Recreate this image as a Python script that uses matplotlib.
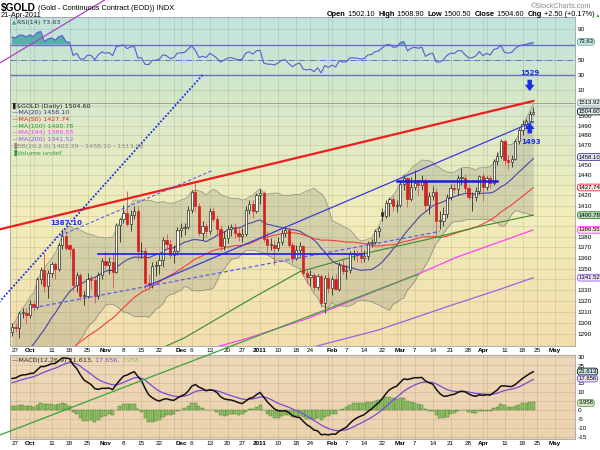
import matplotlib.pyplot as plt
from matplotlib.ticker import NullLocator
from matplotlib.transforms import blended_transform_factory
import numpy as np
import pandas as pd

# Calendrier des séances (jours fériés exclus)
holidays = ["2010-07-05", "2010-09-06", "2010-11-25", "2010-12-24",
            "2011-01-17", "2011-02-21", "2011-04-22"]

# Clôtures avant la fenêtre affichée (servent aux moyennes / indicateurs)
pre_closes = [1207, 1210, 1195, 1194, 1197, 1210, 1199, 1214, 1209, 1208,
              1189, 1182, 1191, 1193, 1193, 1189, 1183, 1161, 1159, 1169, 1181,
              1183, 1185, 1196, 1198, 1205, 1200, 1197, 1199, 1214, 1216,
              1225, 1227, 1233, 1229, 1227, 1226, 1237, 1240, 1237, 1237,
              1238, 1248, 1250, 1250, 1247, 1255, 1256, 1249, 1246,
              1245, 1268, 1269, 1275, 1276, 1279, 1275, 1291, 1292]

# OHLC du 24 sept 2010 au 21 avr 2011
opens = [1292, 1297, 1296, 1309, 1309, 1307, 1317, 1315, 1340, 1349, 1334, 1346, 1354, 1350, 1372,
         1381, 1372, 1368, 1335, 1344, 1325, 1325, 1340, 1339, 1325, 1344, 1357, 1353, 1356, 1347,
         1391, 1397, 1403, 1392, 1401, 1405, 1366, 1366, 1337, 1335, 1352, 1353, 1358, 1377, 1373,
         1363, 1366, 1386, 1388, 1389, 1406, 1423, 1410, 1384, 1390, 1385, 1405, 1397, 1387, 1371,
         1379, 1387, 1389, 1384, 1381, 1383, 1406, 1412, 1405, 1420, 1422, 1378, 1372, 1372, 1369,
         1375, 1384, 1386, 1372, 1360, 1367, 1371, 1346, 1342, 1344, 1333, 1343, 1318, 1341, 1332,
         1340, 1331, 1353, 1348, 1349, 1364, 1364, 1363, 1360, 1362, 1374, 1375, 1385, 1404, 1400,
         1413, 1416, 1410, 1411, 1431, 1437, 1416, 1428, 1432, 1430, 1434, 1411, 1419, 1423, 1395,
         1395, 1402, 1418, 1427, 1426, 1437, 1437, 1427, 1418, 1418, 1424, 1439, 1428, 1437, 1432,
         1454, 1459, 1474, 1455, 1453, 1456, 1474, 1486, 1492, 1495, 1502.1]
highs = [1300, 1300, 1311, 1314, 1314, 1321, 1320, 1342, 1351, 1365, 1349, 1356, 1356, 1374, 1387,
         1385, 1373, 1370, 1347, 1346, 1329, 1346, 1344, 1342, 1347, 1360, 1366, 1361, 1364, 1393,
         1398, 1411, 1424, 1406, 1410, 1410, 1375, 1370, 1345, 1356, 1357, 1365, 1380, 1383, 1378,
         1372, 1389, 1393, 1393, 1410, 1425, 1432, 1413, 1395, 1393, 1408, 1409, 1401, 1391, 1385,
         1391, 1392, 1393, 1389, 1388, 1410, 1415, 1415, 1422, 1426, 1424, 1385, 1379, 1377, 1380,
         1387, 1390, 1389, 1375, 1372, 1375, 1372, 1349, 1349, 1346, 1345, 1345, 1344, 1347, 1343,
         1345, 1356, 1360, 1353, 1366, 1367, 1367, 1370, 1367, 1376, 1378, 1387, 1390, 1408, 1415,
         1418, 1419, 1415, 1434, 1440, 1438, 1438, 1445, 1436, 1440, 1437, 1423, 1429, 1427, 1405,
         1409, 1421, 1431, 1432, 1440, 1447, 1441, 1430, 1423, 1428, 1440, 1442, 1439, 1440, 1456,
         1463, 1476, 1476, 1460, 1460, 1476, 1488, 1496, 1497, 1505, 1508.9]
lows = [1289, 1292, 1287, 1305, 1299, 1305, 1311, 1313, 1336, 1328, 1323, 1342, 1340, 1348, 1368,
        1367, 1361, 1329, 1328, 1321, 1316, 1323, 1331, 1318, 1322, 1340, 1350, 1345, 1332, 1346,
        1375, 1393, 1390, 1385, 1397, 1358, 1360, 1330, 1331, 1332, 1343, 1345, 1351, 1368, 1360,
        1355, 1363, 1380, 1382, 1387, 1403, 1405, 1381, 1377, 1380, 1383, 1394, 1381, 1366, 1367,
        1374, 1381, 1379, 1376, 1375, 1381, 1402, 1398, 1403, 1412, 1375, 1364, 1367, 1353, 1366,
        1372, 1380, 1370, 1355, 1358, 1362, 1343, 1336, 1334, 1329, 1330, 1315, 1309, 1327, 1326,
        1330, 1329, 1345, 1340, 1346, 1358, 1356, 1355, 1356, 1358, 1370, 1373, 1380, 1395, 1398,
        1400, 1405, 1404, 1409, 1425, 1409, 1414, 1425, 1420, 1425, 1405, 1402, 1415, 1380, 1387,
        1390, 1398, 1415, 1422, 1420, 1430, 1423, 1415, 1405, 1414, 1421, 1414, 1425, 1427, 1430,
        1450, 1457, 1450, 1446, 1448, 1455, 1471, 1480, 1488, 1494, 1500.5]
closes = [1297, 1296, 1309, 1309, 1307, 1317, 1315, 1340, 1349, 1334, 1346, 1354, 1350, 1372, 1381,
          1369, 1368, 1335, 1344, 1325, 1325, 1340, 1339, 1325, 1344, 1357, 1353, 1356, 1347, 1391,
          1397, 1403, 1392, 1401, 1405, 1366, 1366, 1337, 1335, 1352, 1353, 1358, 1377, 1373, 1363,
          1366, 1386, 1388, 1389, 1406, 1423, 1410, 1384, 1390, 1385, 1405, 1397, 1387, 1371, 1379,
          1387, 1389, 1384, 1381, 1383, 1406, 1412, 1405, 1420, 1422, 1378, 1372, 1372, 1369, 1375,
          1384, 1386, 1372, 1360, 1367, 1371, 1346, 1342, 1344, 1333, 1343, 1318, 1341, 1332, 1340,
          1331, 1353, 1348, 1349, 1364, 1364, 1363, 1360, 1362, 1374, 1375, 1385, 1388, 1400, 1413,
          1416, 1410, 1411, 1431, 1437, 1416, 1428, 1432, 1430, 1434, 1411, 1419, 1423, 1395, 1395,
          1402, 1418, 1427, 1426, 1437, 1437, 1427, 1418, 1418, 1424, 1439, 1428, 1437, 1432, 1454,
          1459, 1474, 1455, 1453, 1456, 1474, 1486, 1492, 1495, 1502, 1504.6]

# Moyennes longues
ma100_dates = ["2010-11-22", "2010-12-02", "2010-12-30", "2011-01-19", "2011-02-14",
               "2011-03-10", "2011-03-30", "2011-04-21"]
ma100_vals = [1277, 1287, 1323, 1347, 1364, 1377, 1389, 1400.78]
ma144_dates = ["2010-12-15", "2010-12-29", "2011-01-21", "2011-02-14", "2011-03-08",
               "2011-03-23", "2011-04-21"]
ma144_vals = [1279, 1287, 1304, 1325, 1345, 1361, 1386.55]
ma200_dates = ["2011-01-25", "2011-02-18", "2011-03-21", "2011-04-07", "2011-04-21"]
ma200_vals = [1279, 1294, 1316, 1330, 1341.52]

# Axe des dates
tick_dates = ["2010-09-27", "2010-10-01", "2010-10-11", "2010-10-18", "2010-10-25", "2010-11-01",
              "2010-11-08", "2010-11-15", "2010-11-22", "2010-12-01", "2010-12-06", "2010-12-13",
              "2010-12-20", "2010-12-27", "2011-01-03", "2011-01-10", "2011-01-18", "2011-01-24",
              "2011-02-01", "2011-02-07", "2011-02-14", "2011-02-22", "2011-03-01", "2011-03-07",
              "2011-03-14", "2011-03-21", "2011-03-28", "2011-04-01", "2011-04-11", "2011-04-18",
              "2011-04-25", "2011-05-02"]
tick_labels = ["27", "Oct", "11", "18", "25", "Nov", "8", "15", "22", "Dec", "6", "13", "20", "27",
               "2011", "10", "18", "24", "Feb", "7", "14", "22", "Mar", "7", "14", "21", "28",
               "Apr", "11", "18", "25", "May"]
extra_grid = ["2010-10-04", "2010-11-29", "2011-01-31", "2011-02-28", "2011-04-04"]

# Lignes de tendance tracées à la main (date, prix)
trend_red = (["2010-09-20", "2011-04-21"], [1386.6, 1515.6])
trend_dotted = (["2010-09-20", "2010-12-09"], [1317.5, 1543])
trend_magenta = (["2010-09-20", "2010-11-03"], [1554.5, 1630.5])
trend_blue = (["2010-11-16", "2011-04-21"], [1333, 1494])
trend_dash_lo = (["2010-10-04", "2011-03-16"], [1314, 1385])
trend_dash_hi = (["2010-10-12", "2010-12-14"], [1379, 1445])
hline_lo = (["2010-10-28", "2011-02-14"], [1364, 1364])
hline_hi = (["2011-02-28", "2011-04-07"], [1434.6, 1434.6])
trend_green = (["2010-09-20", "2011-03-08"], [1202.7, 1344.8])

# ------------------------------------------------------------------
days = pd.bdate_range("2010-07-01", "2011-05-31")
days = days[~days.isin(pd.to_datetime(holidays))]
pos0 = days.get_loc(pd.Timestamp("2010-10-01"))


def dpos(d):
    return days.get_loc(pd.Timestamp(d)) - pos0


start = days.get_loc(pd.Timestamp("2010-09-24"))
nv = len(closes)
x = np.arange(start, start + nv) - pos0

c_all = pd.Series(pre_closes + closes, dtype=float)
ma20 = c_all.rolling(20).mean()
ma50 = c_all.rolling(50).mean()
sd20 = c_all.rolling(20).std(ddof=0)
bb_up = ma20 + 2 * sd20
bb_dn = ma20 - 2 * sd20
macd = c_all.ewm(span=12, adjust=False).mean() - c_all.ewm(span=26, adjust=False).mean()
sig = macd.ewm(span=9, adjust=False).mean()
hist = macd - sig
dlt = c_all.diff()
ag = dlt.clip(lower=0).ewm(alpha=1 / 14, adjust=False).mean()
al = (-dlt.clip(upper=0)).ewm(alpha=1 / 14, adjust=False).mean()
rsi = 100 - 100 / (1 + ag / al)


def vis(s):
    return s.to_numpy()[-nv:]


W, H = 600, 450
fig = plt.figure(figsize=(6, 4.5), dpi=100)


def rect(top, bottom):
    return [10 / W, 1 - bottom / H, 565 / W, (bottom - top) / H]


def background(r, stops):
    bg = fig.add_axes(r, zorder=0)
    ys = np.linspace(0, 1, 200)
    pos = [s[0] for s in stops]
    cols = np.array([s[1] for s in stops]) / 255
    img = np.stack([np.interp(ys, pos, cols[:, k]) for k in range(3)], axis=1)[:, None, :]
    bg.imshow(img, aspect="auto", extent=[0, 1, 0, 1])
    bg.axis("off")


r_rsi, r_px, r_macd = rect(17, 103), rect(103, 346), rect(355, 439)
background(r_rsi, [(0, (192, 228, 222)), (1, (214, 232, 198))])
background(r_px, [(0, (216, 232, 204)), (0.45, (241, 237, 186)), (1, (243, 222, 172))])
background(r_macd, [(0, (238, 216, 184)), (1, (237, 210, 174))])

ax_r = fig.add_axes(r_rsi, zorder=1)
ax_p = fig.add_axes(r_px, zorder=3)
ax_m = fig.add_axes(r_macd, zorder=2)

tick_x = [dpos(d) for d in tick_dates]
grid_x = sorted(tick_x + [dpos(d) for d in extra_grid])
xlim = (-5.56, 151.6)
tfont = dict(family="Liberation Sans", size=4.6)
gcol = (0.42, 0.46, 0.36)
galpha = 0.2

for ax in (ax_r, ax_p, ax_m):
    ax.patch.set_visible(False)
    ax.set_xlim(*xlim)
    ax.set_xticks(tick_x)
    for gx in grid_x:
        ax.axvline(gx, color=gcol, alpha=galpha, lw=0.6, zorder=0.5)
    ax.grid(True, which="major", axis="y", color=gcol, alpha=galpha, lw=0.6)
    ax.yaxis.tick_right()
    ax.tick_params(which="both", length=0, labelsize=4.6, pad=2)
    for s in ax.spines.values():
        s.set_color("#a0a0a0")
        s.set_linewidth(0.6)

for ax in (ax_p, ax_m):
    ax.set_xticklabels(tick_labels, **tfont)
    ax.tick_params(axis="x", pad=1.5)
    for lab in ax.get_xticklabels():
        if not lab.get_text().isdigit() or lab.get_text() == "2011":
            lab.set_fontweight("bold")
ax_r.set_xticklabels([])


def ylabels(ticks, hidden):
    return ["" if t in hidden else str(t) for t in ticks]


# ---------------- RSI ----------------
rv = vis(rsi)
ax_r.set_ylim(-6.6, 106.2)
rt = [10, 30, 50, 70, 90]
ax_r.set_yticks(rt)
ax_r.set_yticklabels(ylabels(rt, [70]), **tfont)
ax_r.fill_between(x, 70, rv, where=rv >= 70, interpolate=True, color="#55b2a8", lw=0)
ax_r.axhline(70, color="#6d6dcc", lw=1.0)
ax_r.axhline(30, color="#6d6dcc", lw=1.0)
ax_r.axhline(50, color="#6d6dcc", lw=0.7, ls="-.")
ax_r.plot(x, rv, color="#5a5ad8", lw=0.8)

# ---------------- Prix ----------------
ax_p.set_yscale("log")
ax_p.set_ylim(1279.7, 1513.5)
pt = list(range(1290, 1511, 10))
ax_p.set_yticks(pt)
ax_p.set_yticklabels(ylabels(pt, [1340, 1390, 1400, 1430, 1460, 1510]), **tfont)
ax_p.yaxis.set_minor_locator(NullLocator())

ax_p.fill_between(x, vis(bb_dn), vis(bb_up), color=(0.55, 0.56, 0.5), alpha=0.28, lw=0, zorder=1)
ax_p.plot(x, vis(bb_up), color=(0.58, 0.59, 0.54), lw=0.6, zorder=1)
ax_p.plot(x, vis(bb_dn), color=(0.58, 0.59, 0.54), lw=0.6, zorder=1)
ax_p.plot(x, vis(ma20), color="#4646a8", lw=0.8, zorder=2)
ax_p.plot(x, vis(ma50), color="#ee4040", lw=0.8, zorder=2)
ax_p.plot([dpos(d) for d in ma100_dates], ma100_vals, color="#3a8a2a", lw=0.8, zorder=2)
ax_p.plot([dpos(d) for d in ma144_dates], ma144_vals, color="#ff40ff", lw=0.9, zorder=2)
ax_p.plot([dpos(d) for d in ma200_dates], ma200_vals, color="#9a60ea", lw=0.9, zorder=2)

O, Hh, L, C = map(np.array, (opens, highs, lows, closes))
prev = np.r_[pre_closes[-1], C[:-1]]
col = np.where(C < prev, "#d42020", "#2a2a2a")
wick = np.where(C < prev, "#dc5050", "#2a2a2a")
face = np.where(C < O, col, "#fbfbf0")
ax_p.vlines(x, L, Hh, colors=wick, lw=0.6, zorder=3)
ax_p.bar(x, np.maximum(np.abs(C - O), 0.7), bottom=np.minimum(O, C), width=0.62,
         color=face, edgecolor=col, lw=0.5, zorder=4)


def tline(t, **kw):
    ax_p.plot([dpos(d) for d in t[0]], t[1], clip_on=False, zorder=6, **kw)


blue = "#1530e6"
tline(trend_green, color="#3aa33a", lw=0.9)
tline(trend_red, color="#ee1c1c", lw=1.6)
tline(trend_dotted, color=blue, lw=1.3, ls=(0, (1, 1)))
tline(trend_magenta, color="#b040c0", lw=0.9)
tline(trend_blue, color="#3a3ae0", lw=0.9)
tline(trend_dash_lo, color="#5a5aee", lw=0.9, ls=(0, (3, 2)))
tline(trend_dash_hi, color="#5a5aee", lw=0.8, ls=(0, (3, 2)))
tline(hline_lo, color="#2a2ae8", lw=1.3)
tline(hline_hi, color="#1a1ae8", lw=1.8)

afont = dict(family="DejaVu Sans", size=5, fontweight="bold", color=blue, ha="center", va="center")
ax_p.text(dpos("2010-10-15"), 1393, "1387.10", zorder=7, clip_on=False, **afont)
ax_p.text(dpos("2011-04-20"), 1545, "1529", zorder=7, clip_on=False, **afont)
ax_p.text(dpos("2011-04-20") + 0.5, 1473.5, "1493", zorder=7, clip_on=False, **afont)
arr = dict(arrowstyle="simple,head_length=0.45,head_width=0.7,tail_width=0.32",
           fc=blue, ec=blue, lw=0, shrinkA=0, shrinkB=0)
ax_p.annotate("", xy=(dpos("2011-04-20"), 1526), xytext=(dpos("2011-04-20"), 1538),
              arrowprops=arr, annotation_clip=False, zorder=7)
ax_p.annotate("", xy=(dpos("2011-04-20"), 1493), xytext=(dpos("2011-04-20"), 1482),
              arrowprops=arr, annotation_clip=False, zorder=7)

# ---------------- MACD ----------------
ax_m.set_ylim(-16.3, 30.9)
mt = list(range(-15, 31, 5))
ax_m.set_yticks(mt)
ax_m.set_yticklabels(ylabels(mt, [5, 20]), **tfont)
ax_m.bar(x, vis(hist), width=0.85, color="#8cc063", edgecolor="#4e7e34", lw=0.35, zorder=2)
ax_m.plot(x, vis(sig), color="#7a48d8", lw=0.9, zorder=3)
ax_m.plot(x, vis(macd), color="#111111", lw=1.1, zorder=4)


# ---------------- étiquettes de valeur à droite ----------------
def tag(ax, v, s, fc, ec):
    tr = blended_transform_factory(ax.transAxes, ax.transData)
    ax.text(1.006, v, s, transform=tr, ha="left", va="center", family="Liberation Sans",
            size=4.3, zorder=10, clip_on=False,
            bbox=dict(boxstyle="round,pad=0.15,rounding_size=0.4", fc=fc, ec=ec, lw=0.6))


tag(ax_r, 73.63, "73.63", "#c6ece6", "#60a8a0")
tag(ax_p, 1513.92, "1513.92", "#e4eeee", "#8fa0a0")
tag(ax_p, 1504.60, "1504.60", "#d8eeee", "#111111")
tag(ax_p, 1458.10, "1458.10", "#e6ecf8", "#3a3a9a")
tag(ax_p, 1427.74, "1427.74", "#fbe4e4", "#e03030")
tag(ax_p, 1400.78, "1400.78", "#b6dab6", "#3a8a2a")
tag(ax_p, 1386.55, "1386.55", "#fbe2fb", "#ff40ff")
tag(ax_p, 1341.52, "1341.52", "#eee6fb", "#9a60ea")
tag(ax_m, 21.613, "21.613", "#c6e6e6", "#111111")
tag(ax_m, 17.656, "17.656", "#e8e6f8", "#7a48d8")
tag(ax_m, 3.958, "3.958", "#d2ecc0", "#6aa04a")

# ---------------- textes ----------------
ov = fig.add_axes([0, 0, 1, 1], zorder=20)
ov.set_xlim(0, W)
ov.set_ylim(H, 0)
ov.axis("off")


def chain(x0, y0, parts, family="Liberation Sans", size=5.3):
    t = None
    for s, kw in parts:
        k = dict(family=family, size=size, va="bottom")
        k.update(kw)
        if t is None:
            t = ov.text(x0, y0, s, ha="left", **k)
        else:
            t = ov.annotate(s, xy=(1, 0), xycoords=t, ha="left", **k)
    return t


B = {"fontweight": "bold"}
ov.text(1, 10.5, "$GOLD", family="Liberation Sans", size=7.4, fontweight="bold", va="baseline")
ov.text(38, 10.5, "(Gold - Continuous Contract (EOD)) INDX", family="Liberation Sans", size=5.3,
        va="baseline")
ov.text(1, 17, "21-Apr-2011", family="Liberation Sans", size=5.3, va="baseline")
ov.text(591, 6, "\u00a9StockCharts.com", family="Liberation Sans", size=5.2, color="#8a8a8a",
        ha="right", va="center")
chain(327, 18, [("Open", B), (" 1502.10  ", {}), ("High", B), (" 1508.90  ", {}),
                ("Low", B), (" 1500.50  ", {}), ("Close", B), (" 1504.60  ", {}),
                ("Chg", B), (" +2.50 (+0.17%)", {}), (" \u25b2", dict(color="#3a9a3a", size=3.5))])

lf = dict(family="DejaVu Sans", size=4.6, va="center")
ov.text(12, 22.5, "\u25b2", color="#3f9f98", **dict(lf, size=4))
ov.text(17, 22.5, "RSI(14) 73.63", color="#333333", **lf)

legend = [("\u258c$GOLD (Daily) 1504.60", "#222222"),
          ("\u2014MA(20) 1458.10", "#333399"),
          ("\u2014MA(50) 1427.74", "#ee2222"),
          ("\u2014MA(100) 1400.78", "#339933"),
          ("\u2014MA(144) 1386.55", "#ff33ff"),
          ("\u2014MA(200) 1341.52", "#9955ee"),
          ("\u2590BB(20,2.0) 1402.29 - 1458.10 - 1513.92", "#8a8a80"),
          ("\u2590Volume undef", "#339933")]
for i, (s, c) in enumerate(legend):
    ov.text(12, 106 + i * 6.7, s, color=c, **lf)

chain(12, 363, [("\u2014MACD(12,26,9) 21.613, ", dict(color="#222222")),
                ("17.656, ", dict(color="#7a48d8")),
                ("3.958", dict(color="#8cc063"))], family="DejaVu Sans", size=4.6)

fig.savefig("out.png", dpi=100)
